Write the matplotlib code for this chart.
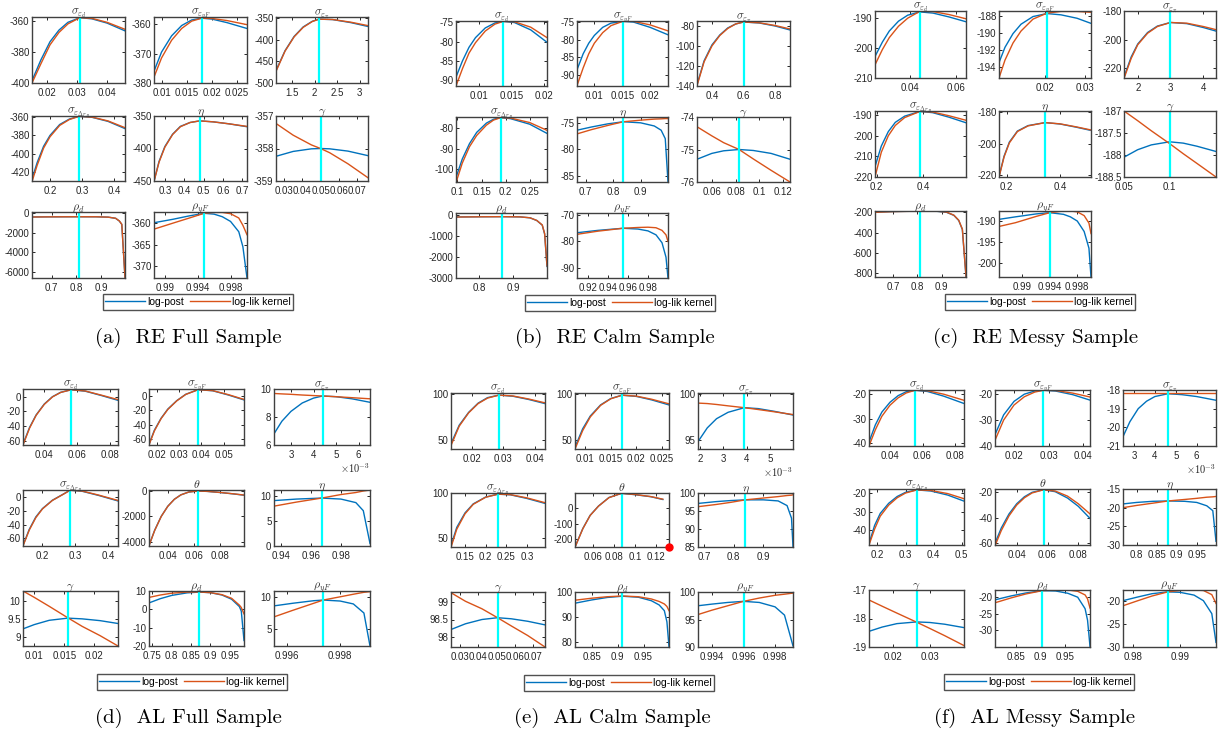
import numpy as np
import matplotlib
matplotlib.use("Agg")
import matplotlib.pyplot as plt
from matplotlib.lines import Line2D

plt.rcParams['font.family'] = ['Liberation Sans', 'DejaVu Sans']
plt.rcParams['mathtext.fontset'] = 'cm'

W, H = 1225, 737
BLUE = '#0072BD'
ORANGE = '#D95319'
CYAN = '#00FFFF'
FRAME = '#404040'

# titles
T_SD = r'$\sigma_{\varepsilon_d}$'
T_SY = r'$\sigma_{\varepsilon_{yF}}$'
T_SP = r'$\sigma_{\varepsilon_\pi}$'
T_SR = r'$\sigma_{\varepsilon_{\Delta r_B}}$'
T_ETA = r'$\eta$'
T_GAM = r'$\gamma$'
T_TH = r'$\theta$'
T_RD = r'$\rho_d$'
T_RY = r'$\rho_{yF}$'

# ---------------- (a) RE Full Sample ----------------
a_sd_x = [0.015, 0.018, 0.021, 0.024, 0.027, 0.031, 0.035, 0.040, 0.046]
a_sd_post = [-398.5, -385, -373.5, -366, -361, -358, -358.8, -361.5, -366.5]
a_sd_lik = [-400, -387.5, -375.5, -367.5, -362, -358, -358.5, -361, -365.5]
a_sy_x = [0.0085, 0.010, 0.012, 0.014, 0.016, 0.018, 0.020, 0.023, 0.027]
a_sy_post = [-376, -369.5, -364, -360.5, -358.6, -358, -358.3, -359.5, -361.5]
a_sy_lik = [-378, -371.5, -365.5, -361.5, -359, -358, -358.1, -358.8, -360.2]
a_sp_x = [1.15, 1.35, 1.55, 1.75, 1.95, 2.1, 2.4, 2.8, 3.18]
a_sp_post = [-471, -425, -392, -370, -357, -352, -353, -360, -369]
a_sp_lik = [-473, -426, -393, -371, -357.5, -352, -352.8, -359, -367]
a_sr_x = [0.144, 0.16, 0.18, 0.2, 0.23, 0.26, 0.29, 0.33, 0.38, 0.433]
a_sr_post = [-428, -410, -392, -380, -368, -362, -359, -360, -364.5, -372.5]
a_sr_lik = [-431, -413, -394, -381.5, -369, -362.5, -359, -359.8, -364, -371.5]
a_eta_x = [0.244, 0.27, 0.30, 0.34, 0.38, 0.43, 0.48, 0.55, 0.63, 0.724]
a_eta_post = [-450, -420, -397, -378, -366, -360, -357.5, -359, -362, -366.5]
a_eta_lik = [-451, -421, -398, -378.5, -366.5, -360, -357.5, -359, -362, -366]
a_gam_x = [0.0256, 0.035, 0.045, 0.05, 0.055, 0.065, 0.076]
a_gam_post = [-358.24, -358.09, -358.01, -358.0, -358.01, -358.08, -358.22]
a_gam_lik = [-357.23, -357.59, -357.89, -358.0, -358.13, -358.47, -358.9]
a_rd_x = [0.62, 0.7, 0.8, 0.88, 0.93, 0.96, 0.975, 0.985, 0.998]
a_rd_post = [-380, -365, -358, -362, -400, -520, -800, -1150, -6600]
a_rd_lik = [-385, -367, -358, -361, -398, -515, -790, -1130, -6620]
a_ry_x = [0.9887, 0.991, 0.993, 0.9948, 0.996, 0.997, 0.998, 0.999, 0.9995, 1.0]
a_ry_post = [-359.9, -359.1, -358.3, -357.7, -357.9, -358.5, -359.6, -362, -365.5, -372.8]
a_ry_lik = [-361.4, -360, -358.8, -357.7, -357.5, -357.5, -357.8, -358.8, -360.5, -362.7]
a_modes = [0.031, 0.018, 2.1, 0.29, 0.48, 0.05, 0.81, 0.9948]

# ---------------- (b) RE Calm Sample ----------------
b_sd_x = [0.0065, 0.0075, 0.0085, 0.0095, 0.011, 0.0125, 0.0138, 0.0155, 0.018, 0.0205]
b_sd_post = [-89.2, -85, -81.5, -79, -76.5, -75.2, -74.8, -75.1, -77, -80.2]
b_sd_lik = [-91.5, -87, -83, -80.3, -77.3, -75.5, -74.8, -74.9, -76.3, -79.0]
b_sy_x = [0.0069, 0.008, 0.009, 0.010, 0.0115, 0.013, 0.0151, 0.017, 0.020, 0.0232]
b_sy_post = [-88.5, -84, -81, -78.8, -76.5, -75.3, -74.8, -75, -76.5, -78.6]
b_sy_lik = [-93, -88, -84, -81, -78, -76, -74.8, -74.8, -75.8, -77.5]
b_sp_x = [0.305, 0.35, 0.4, 0.45, 0.5, 0.55, 0.6, 0.7, 0.8, 0.895]
b_sp_post = [-139, -115, -99, -89, -82, -78, -76, -77, -80, -84]
b_sp_lik = [-140, -116, -100, -89.5, -82.5, -78, -76, -76.8, -79.5, -83]
b_sr_x = [0.097, 0.11, 0.125, 0.14, 0.16, 0.175, 0.19, 0.21, 0.25, 0.286]
b_sr_post = [-104, -95, -87.5, -82, -77.5, -75.6, -74.8, -75.3, -78, -82.5]
b_sr_lik = [-106.5, -97, -89, -83.5, -78.5, -76, -74.8, -75, -77.2, -81]
b_eta_x = [0.668, 0.72, 0.78, 0.837, 0.9, 0.95, 0.975, 0.99, 1.0]
b_eta_post = [-76.4, -75.8, -75.2, -74.8, -75.0, -75.6, -76.4, -78, -86.2]
b_eta_lik = [-77.1, -76.3, -75.5, -74.8, -74.5, -74.3, -74.25, -74.2, -74.2]
b_gam_x = [0.0475, 0.06, 0.07, 0.083, 0.095, 0.11, 0.126]
b_gam_post = [-75.3, -75.12, -75.04, -75.0, -75.03, -75.12, -75.3]
b_gam_lik = [-74.3, -74.58, -74.79, -75.0, -75.29, -75.64, -76.0]
b_rd_x = [0.732, 0.8, 0.866, 0.92, 0.95, 0.97, 0.986, 0.993, 1.0]
b_rd_post = [-90, -80, -75, -85, -130, -260, -480, -900, -2450]
b_rd_lik = [-92, -81, -75, -84, -128, -255, -470, -880, -2420]
b_ry_x = [0.909, 0.93, 0.955, 0.97, 0.98, 0.988, 0.994, 0.998, 1.0]
b_ry_post = [-76.7, -75.8, -75.0, -75.3, -76.0, -77.5, -80.5, -86, -94]
b_ry_lik = [-77.3, -76.1, -75.0, -74.7, -74.6, -74.8, -75.8, -77.5, -80]
b_modes = [0.0138, 0.0151, 0.6, 0.19, 0.837, 0.083, 0.866, 0.955]

# ---------------- (c) RE Messy Sample ----------------
c_sd_x = [0.0248, 0.028, 0.031, 0.035, 0.039, 0.0443, 0.050, 0.057, 0.0643]
c_sd_post = [-202.8, -198, -194.3, -191, -189, -187.9, -188.3, -189.6, -191.2]
c_sd_lik = [-205.6, -200.5, -196.5, -192.7, -190, -187.7, -187.8, -188.8, -190.2]
c_sy_x = [0.0085, 0.010, 0.012, 0.014, 0.017, 0.0205, 0.024, 0.028, 0.0315]
c_sy_post = [-193.5, -191.7, -190.1, -189.0, -188.1, -187.75, -187.9, -188.3, -188.9]
c_sy_lik = [-195.3, -193.2, -191.2, -189.8, -188.4, -187.7, -187.5, -187.5, -187.6]
c_sp_x = [1.58, 1.8, 2.0, 2.3, 2.6, 3.0, 3.5, 4.0, 4.39]
c_sp_post = [-226, -212, -203, -195, -190.5, -188, -188.8, -191.5, -194]
c_sp_lik = [-227, -213, -203.5, -195.5, -190.8, -188, -188.5, -190.8, -193]
c_sr_x = [0.193, 0.22, 0.25, 0.28, 0.32, 0.386, 0.44, 0.51, 0.583]
c_sr_post = [-215, -205, -198, -193.5, -190.5, -188.2, -188.8, -191, -193.7]
c_sr_lik = [-220, -208, -200, -195, -191.2, -188.2, -188.5, -190.3, -192.5]
c_eta_x = [0.171, 0.19, 0.21, 0.24, 0.28, 0.344, 0.4, 0.46, 0.516]
c_eta_post = [-221, -208, -199, -192, -188.5, -186.6, -187.5, -189.5, -191.6]
c_eta_lik = [-221.5, -208.5, -199.5, -192.3, -188.7, -186.6, -187.4, -189.3, -191.3]
c_gam_x = [0.05, 0.065, 0.08, 0.1, 0.115, 0.13, 0.151]
c_gam_post = [-188.05, -187.88, -187.77, -187.7, -187.73, -187.8, -187.92]
c_gam_lik = [-187.0, -187.22, -187.45, -187.74, -187.97, -188.19, -188.5]
c_rd_x = [0.625, 0.7, 0.81, 0.88, 0.92, 0.95, 0.97, 0.985, 1.0]
c_rd_post = [-198, -192, -188, -190, -200, -230, -280, -370, -835]
c_rd_lik = [-200, -193, -188, -189, -198, -228, -278, -365, -830]
c_ry_x = [0.9866, 0.989, 0.992, 0.994, 0.996, 0.997, 0.998, 0.999, 0.9997, 1.0]
c_ry_post = [-189.6, -189.0, -188.3, -188.0, -188.4, -189.0, -190.0, -192.5, -196.5, -203.4]
c_ry_lik = [-191.3, -190.4, -188.9, -188.0, -187.6, -187.6, -187.8, -188.7, -190.5, -193.0]
c_modes = [0.0443, 0.0205, 3.0, 0.386, 0.344, 0.1, 0.81, 0.994]

# ---------------- (d) AL Full Sample ----------------
d_sd_x = [0.027, 0.031, 0.035, 0.040, 0.045, 0.050, 0.0565, 0.065, 0.075, 0.085]
d_sd_post = [-65, -42, -25, -10, 0, 6, 9.5, 7.5, 1.5, -5]
d_sd_lik = [-66, -43, -25.5, -10.5, -0.3, 5.8, 9.5, 7.8, 2, -4]
d_sy_x = [0.0166, 0.019, 0.022, 0.025, 0.029, 0.033, 0.0385, 0.045, 0.052, 0.059]
d_sy_post = [-68, -48, -31, -18, -6, 3, 9.5, 8, 2, -5]
d_sy_lik = [-69, -49, -31.5, -18.5, -6.3, 2.8, 9.5, 8.2, 2.5, -4.3]
d_sp_x = [2.25e-3, 2.6e-3, 3.0e-3, 3.5e-3, 4.0e-3, 4.4e-3, 5.0e-3, 5.7e-3, 6.5e-3]
d_sp_post = [6.8, 7.7, 8.4, 9.0, 9.35, 9.5, 9.45, 9.3, 9.05]
d_sp_lik = [9.68, 9.65, 9.62, 9.57, 9.53, 9.5, 9.45, 9.38, 9.3]
d_sr_x = [0.141, 0.16, 0.18, 0.2, 0.23, 0.26, 0.284, 0.32, 0.37, 0.429]
d_sr_post = [-70, -47, -29, -17, -5, 3, 9.5, 8, 2, -6]
d_sr_lik = [-71, -48, -30, -17.5, -5.3, 2.8, 9.5, 8.3, 2.5, -5.3]
d_th_x = [0.0257, 0.030, 0.035, 0.040, 0.045, 0.050, 0.056, 0.0627, 0.07, 0.08, 0.09, 0.098]
d_th_post = [-4300, -3100, -2000, -1200, -650, -300, -80, 0, -30, -120, -230, -330]
d_th_lik = [-4320, -3120, -2010, -1210, -655, -302, -80, 0, -28, -115, -222, -318]
d_eta_x = [0.935, 0.95, 0.967, 0.98, 0.99, 0.995, 0.9995]
d_eta_post = [9.0, 9.3, 9.5, 9.3, 8.6, 7, 0.5]
d_eta_lik = [7.9, 8.7, 9.5, 10.2, 10.6, 10.9, 11.1]
d_gam_x = [0.0081, 0.010, 0.0125, 0.0156, 0.018, 0.021, 0.024]
d_gam_post = [9.22, 9.34, 9.46, 9.52, 9.5, 9.45, 9.37]
d_gam_lik = [10.28, 10.1, 9.85, 9.53, 9.29, 9.03, 8.74]
d_rd_x = [0.741, 0.77, 0.80, 0.84, 0.8717, 0.90, 0.93, 0.955, 0.975, 0.98, 0.987]
d_rd_post = [3.5, 5.8, 7.6, 9.0, 9.4, 9.1, 7.8, 5.5, 1.5, -1, -17]
d_rd_lik = [6.5, 7.8, 8.8, 9.4, 9.45, 9.1, 8, 6, 2.3, 1, -2.5]
d_ry_x = [0.9955, 0.9962, 0.997, 0.99736, 0.9980, 0.9985, 0.9989, 0.99913]
d_ry_post = [8.6, 9.0, 9.4, 9.5, 9.35, 8.9, 7.5, 2.4]
d_ry_lik = [6.9, 7.9, 9.0, 9.5, 10.0, 10.4, 10.7, 10.8]
d_modes = [0.0565, 0.0385, 4.4e-3, 0.284, 0.0627, 0.967, 0.0156, 0.8717, 0.99736]

# ---------------- (e) AL Calm Sample ----------------
e_sd_x = [0.0134, 0.016, 0.019, 0.022, 0.025, 0.0286, 0.033, 0.038, 0.0432]
e_sd_post = [46, 66, 80, 90, 96, 98.7, 97.5, 94, 89.5]
e_sd_lik = [44, 65, 79.5, 89.5, 95.5, 98.7, 97.8, 94.5, 90.3]
e_sy_x = [0.008, 0.0095, 0.011, 0.013, 0.015, 0.0172, 0.020, 0.023, 0.0264]
e_sy_post = [42, 62, 76, 88, 95, 98.6, 97.3, 93.5, 88]
e_sy_lik = [40, 60, 75, 87.5, 94.7, 98.6, 97.6, 94.2, 89.2]
e_sp_x = [1.9e-3, 2.3e-3, 2.7e-3, 3.2e-3, 3.9e-3, 4.5e-3, 5.2e-3, 6.0e-3]
e_sp_post = [94.8, 96.3, 97.3, 98.0, 98.5, 98.4, 98.1, 97.7]
e_sp_lik = [99.0, 98.95, 98.85, 98.7, 98.5, 98.3, 98.05, 97.75]
e_sr_x = [0.116, 0.13, 0.15, 0.17, 0.20, 0.23, 0.26, 0.30, 0.344]
e_sr_post = [42, 62, 78, 88, 95.5, 98.7, 98, 94, 88.5]
e_sr_lik = [40, 60, 77, 87.5, 95.3, 98.7, 98.2, 94.6, 89.3]
e_th_x = [0.0425, 0.05, 0.057, 0.065, 0.075, 0.087, 0.1, 0.115, 0.1265]
e_th_post = [-250, -130, -45, 15, 70, 97, 88, 75, 57]
e_th_lik = [-252, -132, -46, 14, 69, 97, 89, 76, 59]
e_th_flag_x = [0.1324]
e_th_flag_y = [-250]
e_eta_x = [0.68, 0.74, 0.79, 0.84, 0.9, 0.95, 0.98, 0.995, 1.0]
e_eta_post = [97.1, 97.6, 97.9, 98.1, 98.1, 97.8, 96.5, 93, 85]
e_eta_lik = [96.2, 96.8, 97.4, 98.1, 98.6, 99.0, 99.3, 99.4, 99.5]
e_gam_x = [0.0251, 0.033, 0.042, 0.0505, 0.058, 0.067, 0.0764]
e_gam_post = [98.22, 98.38, 98.5, 98.55, 98.52, 98.45, 98.35]
e_gam_lik = [99.25, 99.01, 98.8, 98.55, 98.32, 98.05, 97.73]
e_rd_x = [0.818, 0.85, 0.88, 0.909, 0.94, 0.965, 0.98, 0.99, 0.995, 0.999]
e_rd_post = [95.5, 96.8, 97.8, 98.3, 97.9, 96.5, 94.8, 92.5, 88, 78]
e_rd_lik = [96.7, 97.5, 98.1, 98.4, 98.1, 97.2, 96.2, 95.2, 94.2, 92.5]
e_ry_x = [0.99311, 0.994, 0.995, 0.996, 0.997, 0.998, 0.9986, 0.99914]
e_ry_post = [97.5, 97.8, 98.1, 98.3, 98.1, 97.3, 95.8, 90.2]
e_ry_lik = [95.9, 96.7, 97.5, 98.3, 98.9, 99.4, 99.6, 99.8]
e_modes = [0.0286, 0.0172, 3.9e-3, 0.23, 0.087, 0.84, 0.0505, 0.909, 0.996]

# ---------------- (f) AL Messy Sample ----------------
f_sd_x = [0.0271, 0.031, 0.035, 0.040, 0.045, 0.050, 0.0555, 0.063, 0.073, 0.0855]
f_sd_post = [-39.5, -32.5, -27.3, -23.3, -20.6, -19.0, -18.4, -18.9, -20.8, -23.8]
f_sd_lik = [-41.1, -34.5, -29, -24.5, -21.5, -19.5, -18.4, -18.6, -20, -22.5]
f_sy_x = [0.0145, 0.017, 0.020, 0.023, 0.026, 0.0285, 0.032, 0.037, 0.042]
f_sy_post = [-35.6, -28, -22.8, -20, -18.8, -18.5, -18.8, -20.2, -22.3]
f_sy_lik = [-37.8, -30, -24.2, -21, -19.2, -18.5, -18.6, -19.6, -21.1]
f_sp_x = [2.47e-3, 2.8e-3, 3.2e-3, 3.6e-3, 4.0e-3, 4.63e-3, 5.3e-3, 6.0e-3, 6.93e-3]
f_sp_post = [-20.5, -19.7, -19.0, -18.6, -18.35, -18.2, -18.25, -18.35, -18.55]
f_sp_lik = [-18.15, -18.15, -18.15, -18.15, -18.15, -18.15, -18.15, -18.15, -18.15]
f_sr_x = [0.17, 0.19, 0.21, 0.24, 0.27, 0.30, 0.34, 0.39, 0.45, 0.508]
f_sr_post = [-47.5, -37.5, -31, -25.5, -21.8, -19.5, -18.2, -18.8, -21, -24.3]
f_sr_lik = [-48.2, -39.5, -32.5, -26.5, -22.5, -19.9, -18.2, -18.5, -20.2, -23]
f_th_x = [0.0259, 0.030, 0.035, 0.040, 0.045, 0.050, 0.0574, 0.065, 0.073, 0.080, 0.0876]
f_th_post = [-60, -48, -37, -29, -23.5, -20, -18, -19.5, -24.5, -31, -40.5]
f_th_lik = [-62, -50, -38.5, -30, -24.3, -20.5, -18, -19, -23, -29, -37]
f_eta_x = [0.766, 0.8, 0.84, 0.879, 0.92, 0.95, 0.975, 0.99, 0.998]
f_eta_post = [-19.0, -18.6, -18.3, -18.2, -18.3, -18.6, -19.5, -20.8, -29]
f_eta_lik = [-20.0, -19.4, -18.8, -18.2, -17.8, -17.5, -17.2, -17.1, -17.0]
f_gam_x = [0.0134, 0.017, 0.021, 0.0264, 0.030, 0.034, 0.0393]
f_gam_post = [-18.45, -18.3, -18.18, -18.12, -18.14, -18.2, -18.32]
f_gam_lik = [-17.35, -17.57, -17.81, -18.13, -18.35, -18.6, -18.95]
f_rd_x = [0.807, 0.84, 0.87, 0.903, 0.93, 0.955, 0.975, 0.99, 0.995, 1.0]
f_rd_post = [-20.8, -19.6, -18.7, -18.0, -18.1, -18.8, -20, -23.5, -27, -35]
f_rd_lik = [-21.7, -20.2, -19.0, -18.0, -17.8, -17.8, -18.2, -19.3, -20.5, -23.3]
f_ry_x = [0.9778, 0.981, 0.984, 0.9874, 0.990, 0.993, 0.995, 0.9968, 0.9977]
f_ry_post = [-20.0, -19.2, -18.5, -18.1, -18.2, -18.8, -20, -22.8, -29]
f_ry_lik = [-21.1, -20.0, -19.0, -18.1, -17.8, -17.7, -17.8, -18.7, -20.6]
f_modes = [0.0555, 0.0285, 4.63e-3, 0.34, 0.0574, 0.879, 0.0264, 0.903, 0.9874]

captions = ['(a)  RE Full Sample', '(b)  RE Calm Sample', '(c)  RE Messy Sample',
            '(d)  AL Full Sample', '(e)  AL Calm Sample', '(f)  AL Messy Sample']

# ---------------- layout (pixels) ----------------
# each panel: column x-ranges, row y-ranges, legend centre, caption centre
layout = {
    'a': ([(32, 125), (154, 247), (276, 368)], [(17, 83), (116, 181), (212, 278)], (198, 302), (188, 338)),
    'b': ([(456, 547), (577, 668), (697, 790)], [(21, 86), (117, 182), (213, 278)], (620, 303), (615, 338)),
    'c': ([(875, 966), (999, 1091), (1124, 1216)], [(11, 78), (111, 177), (211, 277)], (1040, 302), (1036, 338)),
    'd': ([(23, 118), (149, 244), (274, 370)], [(389, 445), (490, 546), (591, 646)], (192, 682), (188, 718)),
    'e': ([(451, 545), (575, 669), (698, 793)], [(393, 449), (493, 547), (592, 647)], (619, 683), (612, 718)),
    'f': ([(869, 964), (995, 1090), (1123, 1216)], [(390, 446), (489, 545), (590, 647)], (1039, 682), (1035, 718)),
}

# per subplot: title, x, post, lik, ylim, xticks, yticks, x-exponent
specs = {
    'a': [
        (T_SD, a_sd_x, a_sd_post, a_sd_lik, (-400, -357.6), [0.02, 0.03, 0.04], [-400, -380, -360], 0),
        (T_SY, a_sy_x, a_sy_post, a_sy_lik, (-380, -357.6), [0.01, 0.015, 0.02, 0.025], [-380, -370, -360], 0),
        (T_SP, a_sp_x, a_sp_post, a_sp_lik, (-500, -347), [1.5, 2, 2.5, 3], [-500, -450, -400, -350], 0),
        (T_SR, a_sr_x, a_sr_post, a_sr_lik, (-430.3, -358.6), [0.2, 0.3, 0.4], [-420, -400, -380, -360], 0),
        (T_ETA, a_eta_x, a_eta_post, a_eta_lik, (-450, -350), [0.3, 0.4, 0.5, 0.6, 0.7], [-450, -400, -350], 0),
        (T_GAM, a_gam_x, a_gam_post, a_gam_lik, (-359, -357), [0.03, 0.04, 0.05, 0.06, 0.07], [-359, -358, -357], 0),
        (T_RD, a_rd_x, a_rd_post, a_rd_lik, (-6650, 130), [0.7, 0.8, 0.9], [-6000, -4000, -2000, 0], 0),
        (T_RY, a_ry_x, a_ry_post, a_ry_lik, (-372.8, -357.4), [0.99, 0.994, 0.998], [-370, -365, -360], 0),
    ],
    'b': [
        (T_SD, b_sd_x, b_sd_post, b_sd_lik, (-91.5, -74.7), [0.01, 0.015, 0.02], [-90, -85, -80, -75], 0),
        (T_SY, b_sy_x, b_sy_post, b_sy_lik, (-93.1, -74.7), [0.01, 0.015, 0.02], [-90, -85, -80, -75], 0),
        (T_SP, b_sp_x, b_sp_post, b_sp_lik, (-140.3, -75), [0.4, 0.6, 0.8], [-140, -120, -100, -80], 0),
        (T_SR, b_sr_x, b_sr_post, b_sr_lik, (-106.2, -74.5), [0.1, 0.15, 0.2, 0.25], [-100, -90, -80], 0),
        (T_ETA, b_eta_x, b_eta_post, b_eta_lik, (-86.2, -73.9), [0.7, 0.8, 0.9], [-85, -80, -75], 0),
        (T_GAM, b_gam_x, b_gam_post, b_gam_lik, (-76, -74), [0.06, 0.08, 0.1, 0.12], [-76, -75, -74], 0),
        (T_RD, b_rd_x, b_rd_post, b_rd_lik, (-3000, 100), [0.8, 0.9], [-3000, -2000, -1000, 0], 0),
        (T_RY, b_ry_x, b_ry_post, b_ry_lik, (-93.9, -69.2), [0.92, 0.94, 0.96, 0.98], [-90, -80, -70], 0),
    ],
    'c': [
        (T_SD, c_sd_x, c_sd_post, c_sd_lik, (-210, -187.6), [0.04, 0.06], [-210, -200, -190], 0),
        (T_SY, c_sy_x, c_sy_post, c_sy_lik, (-195.3, -187.45), [0.02, 0.03], [-194, -192, -190, -188], 0),
        (T_SP, c_sp_x, c_sp_post, c_sp_lik, (-226.7, -180), [2, 3, 4], [-220, -200, -180], 0),
        (T_SR, c_sr_x, c_sr_post, c_sr_lik, (-220, -188), [0.2, 0.4], [-220, -210, -200, -190], 0),
        (T_ETA, c_eta_x, c_eta_post, c_eta_lik, (-221.3, -179.2), [0.2, 0.4], [-220, -200, -180], 0),
        (T_GAM, c_gam_x, c_gam_post, c_gam_lik, (-188.5, -187), [0.05, 0.1], [-188.5, -188, -187.5, -187], 0),
        (T_RD, c_rd_x, c_rd_post, c_rd_lik, (-838, -187), [0.7, 0.8, 0.9], [-800, -600, -400, -200], 0),
        (T_RY, c_ry_x, c_ry_post, c_ry_lik, (-203.4, -187.6), [0.99, 0.994, 0.998], [-200, -195, -190], 0),
    ],
    'd': [
        (T_SD, d_sd_x, d_sd_post, d_sd_lik, (-66, 10.5), [0.04, 0.06, 0.08], [-60, -40, -20, 0], 0),
        (T_SY, d_sy_x, d_sy_post, d_sy_lik, (-69, 10.5), [0.02, 0.03, 0.04, 0.05], [-60, -40, -20, 0], 0),
        (T_SP, d_sp_x, d_sp_post, d_sp_lik, (6, 10), [3e-3, 4e-3, 5e-3, 6e-3], [6, 8, 10], -3),
        (T_SR, d_sr_x, d_sr_post, d_sr_lik, (-71, 9.8), [0.2, 0.3, 0.4], [-60, -40, -20, 0], 0),
        (T_TH, d_th_x, d_th_post, d_th_lik, (-4340, 80), [0.04, 0.06, 0.08], [-4000, -2000, 0], 0),
        (T_ETA, d_eta_x, d_eta_post, d_eta_lik, (0, 11.1), [0.94, 0.96, 0.98], [0, 5, 10], 0),
        (T_GAM, d_gam_x, d_gam_post, d_gam_lik, (8.74, 10.28), [0.01, 0.015, 0.02], [9, 9.5, 10], 0),
        (T_RD, d_rd_x, d_rd_post, d_rd_lik, (-20, 10), [0.75, 0.8, 0.85, 0.9, 0.95], [-20, -10, 0, 10], 0),
        (T_RY, d_ry_x, d_ry_post, d_ry_lik, (2.4, 10.9), [0.996, 0.998], [5, 10], 0),
    ],
    'e': [
        (T_SD, e_sd_x, e_sd_post, e_sd_lik, (40.2, 101), [0.02, 0.03, 0.04], [50, 100], 0),
        (T_SY, e_sy_x, e_sy_post, e_sy_lik, (40, 101), [0.01, 0.015, 0.02, 0.025], [50, 100], 0),
        (T_SP, e_sp_x, e_sp_post, e_sp_lik, (94, 100.1), [2e-3, 3e-3, 4e-3, 5e-3], [95, 100], -3),
        (T_SR, e_sr_x, e_sr_post, e_sr_lik, (40.3, 100), [0.15, 0.2, 0.25, 0.3], [50, 100], 0),
        (T_TH, e_th_x, e_th_post, e_th_lik, (-250, 99), [0.06, 0.08, 0.1, 0.12], [-200, -100, 0], 0),
        (T_ETA, e_eta_x, e_eta_post, e_eta_lik, (85, 100), [0.7, 0.8, 0.9], [85, 90, 95, 100], 0),
        (T_GAM, e_gam_x, e_gam_post, e_gam_lik, (97.73, 99.27), [0.03, 0.04, 0.05, 0.06, 0.07], [98, 98.5, 99], 0),
        (T_RD, e_rd_x, e_rd_post, e_rd_lik, (77.9, 100), [0.85, 0.9, 0.95], [80, 90, 100], 0),
        (T_RY, e_ry_x, e_ry_post, e_ry_lik, (90, 100), [0.994, 0.996, 0.998], [90, 95, 100], 0),
    ],
    'f': [
        (T_SD, f_sd_x, f_sd_post, f_sd_lik, (-41.1, -18.3), [0.04, 0.06, 0.08], [-40, -30, -20], 0),
        (T_SY, f_sy_x, f_sy_post, f_sy_lik, (-40, -18.4), [0.02, 0.03, 0.04], [-40, -30, -20], 0),
        (T_SP, f_sp_x, f_sp_post, f_sp_lik, (-21, -18), [3e-3, 4e-3, 5e-3, 6e-3], [-21, -20, -19, -18], -3),
        (T_SR, f_sr_x, f_sr_post, f_sr_lik, (-48.2, -17.7), [0.2, 0.3, 0.4, 0.5], [-40, -30, -20], 0),
        (T_TH, f_th_x, f_th_post, f_th_lik, (-61.4, -17.4), [0.04, 0.06, 0.08], [-60, -40, -20], 0),
        (T_ETA, f_eta_x, f_eta_post, f_eta_lik, (-30, -15), [0.8, 0.85, 0.9, 0.95], [-30, -25, -20, -15], 0),
        (T_GAM, f_gam_x, f_gam_post, f_gam_lik, (-19, -17), [0.02, 0.03], [-19, -18, -17], 0),
        (T_RD, f_rd_x, f_rd_post, f_rd_lik, (-35.2, -17.8), [0.85, 0.9, 0.95], [-30, -25, -20], 0),
        (T_RY, f_ry_x, f_ry_post, f_ry_lik, (-30, -17.7), [0.98, 0.99], [-30, -25, -20], 0),
    ],
}
modes = {'a': a_modes, 'b': b_modes, 'c': c_modes, 'd': d_modes, 'e': e_modes, 'f': f_modes}


def fig_rect(x0, x1, y0, y1):
    return [x0 / W, 1 - y1 / H, (x1 - x0) / W, (y1 - y0) / H]


def fmt(v, e):
    return '%g' % round(v / 10.0 ** e, 6)


fig = plt.figure(figsize=(W / 100, H / 100), dpi=100)

for k, key in enumerate('abcdef'):
    cols, rows, leg_c, cap_c = layout[key]
    for i, (title, x, post, lik, ylim, xt, yt, ex) in enumerate(specs[key]):
        c, r = i % 3, i // 3
        ax = fig.add_axes(fig_rect(cols[c][0], cols[c][1], rows[r][0], rows[r][1]))
        ax.plot(x, post, color=BLUE, lw=1.0)
        ax.plot(x, lik, color=ORANGE, lw=1.0)
        ax.axvline(modes[key][i], color=CYAN, lw=1.6)
        xr = x[-1]
        if key == 'e' and title == T_TH:
            # the red flag marks the upper end of the theta grid
            ax.plot(e_th_flag_x, e_th_flag_y, 'o', color='red', ms=5, clip_on=False, zorder=5)
            xr = e_th_flag_x[0]
        ax.set_xlim(x[0], xr)
        ax.set_ylim(*ylim)
        ax.set_xticks(xt)
        ax.set_xticklabels([fmt(v, ex) for v in xt])
        ax.set_yticks(yt)
        ax.set_yticklabels([fmt(v, 0) for v in yt])
        ax.tick_params(direction='in', length=2.5, width=0.7, top=True, right=True,
                       labelsize=7, colors='#262626')
        ax.tick_params(axis='x', pad=3.6)
        ax.tick_params(axis='y', pad=1.8)
        for s in ax.spines.values():
            s.set_color(FRAME)
            s.set_linewidth(1.0)
        ax.set_title(title, fontsize=8.5, color='#333333', pad=1.5)
        if ex != 0:
            ax.text(1.0, -0.3, r'$\times10^{%d}$' % ex, transform=ax.transAxes,
                    ha='right', va='top', fontsize=7.5, color='#262626')

    handles = [Line2D([], [], color=BLUE, lw=1.0), Line2D([], [], color=ORANGE, lw=1.0)]
    leg = fig.legend(handles, ['log-post', 'log-lik kernel'], loc='center',
                     bbox_to_anchor=(leg_c[0] / W, 1 - leg_c[1] / H), ncol=2,
                     fontsize=7.5, frameon=True, fancybox=False, edgecolor='#262626',
                     handlelength=3.8, handletextpad=0.2, columnspacing=0.6,
                     borderpad=0.25, borderaxespad=0)
    leg.get_frame().set_linewidth(1.0)
    fig.text(cap_c[0] / W, 1 - cap_c[1] / H, captions[k], family='cmr10',
             fontsize=15, ha='center', va='center')

fig.savefig('out.png', dpi=100)
